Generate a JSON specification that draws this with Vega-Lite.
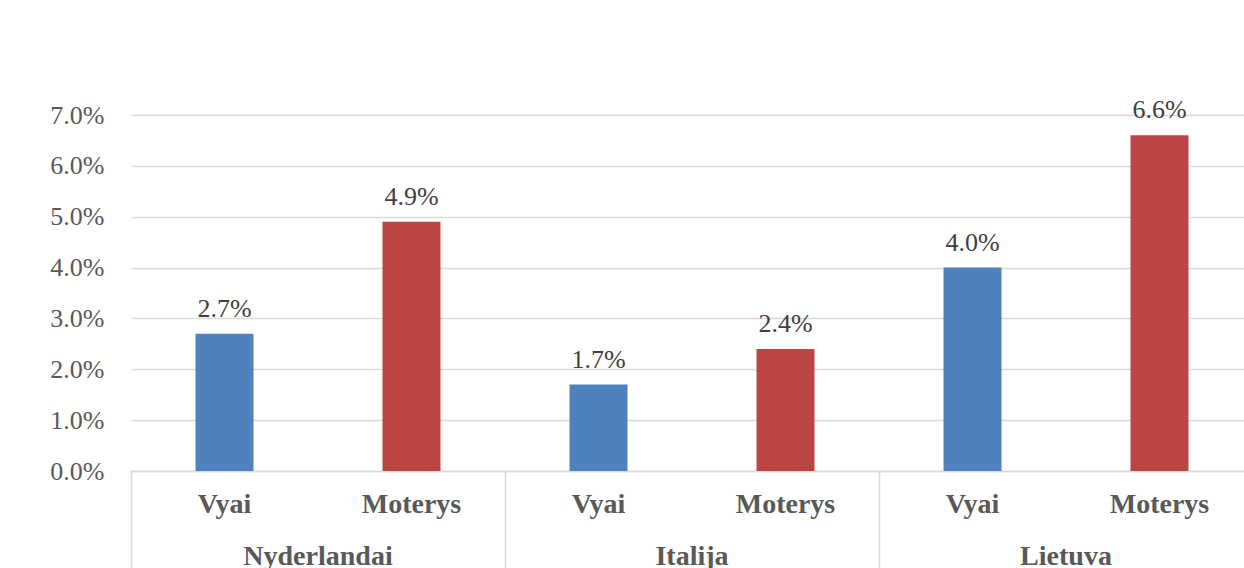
{
  "$schema": "https://vega.github.io/schema/vega-lite/v6.json",
  "width": 1113,
  "height": 356,
  "autosize": {"type": "none"},
  "padding": {"left": 131, "top": 115, "right": 0, "bottom": 97},
  "background": "white",
  "config": {"view": {"stroke": null}, "font": "Liberation Serif"},
  "data": {
    "values": [
      {"country": "Nyderlandai", "sex": "Vyai", "key": "Nyderlandai|Vyai", "value": 0.027},
      {"country": "Nyderlandai", "sex": "Moterys", "key": "Nyderlandai|Moterys", "value": 0.049},
      {"country": "Italija", "sex": "Vyai", "key": "Italija|Vyai", "value": 0.017},
      {"country": "Italija", "sex": "Moterys", "key": "Italija|Moterys", "value": 0.024},
      {"country": "Lietuva", "sex": "Vyai", "key": "Lietuva|Vyai", "value": 0.040},
      {"country": "Lietuva", "sex": "Moterys", "key": "Lietuva|Moterys", "value": 0.066}
    ]
  },
  "layer": [
    {
      "encoding": {
        "x": {
          "field": "key",
          "type": "nominal",
          "sort": null,
          "scale": {
            "domain": ["Nyderlandai|Vyai", "Nyderlandai|Moterys", "Italija|Vyai", "Italija|Moterys", "Lietuva|Vyai", "Lietuva|Moterys"],
            "range": [0, 1122],
            "paddingInner": 0.69,
            "paddingOuter": 0.345
          },
          "axis": {
            "orient": "bottom",
            "title": null,
            "labelExpr": "split(datum.label, '|')[1]",
            "ticks": false,
            "domainColor": "#d9d9d9",
            "domainWidth": 1.5,
            "labelAngle": 0,
            "labelFont": "Liberation Serif",
            "labelFontSize": 28,
            "labelFontWeight": "bold",
            "labelColor": "#595959",
            "labelPadding": 19
          }
        },
        "y": {
          "field": "value",
          "type": "quantitative",
          "scale": {"domain": [0, 0.07], "nice": false},
          "axis": {
            "title": null,
            "format": ".1%",
            "values": [0, 0.01, 0.02, 0.03, 0.04, 0.05, 0.06, 0.07],
            "ticks": false,
            "domain": false,
            "gridColor": "#d9d9d9",
            "gridWidth": 1.5,
            "labelFont": "Liberation Serif",
            "labelFontSize": 26,
            "labelColor": "#595959",
            "labelPadding": 27
          }
        }
      },
      "layer": [
        {
          "mark": {"type": "bar"},
          "encoding": {
            "color": {
              "field": "sex",
              "type": "nominal",
              "scale": {"domain": ["Vyai", "Moterys"], "range": ["#4f81bd", "#bb4542"]},
              "legend": null
            }
          }
        },
        {
          "mark": {"type": "text", "baseline": "alphabetic", "dy": -17, "fontSize": 26, "color": "#404040", "font": "Liberation Serif"},
          "encoding": {
            "text": {"field": "value", "type": "quantitative", "format": ".1%"}
          }
        }
      ]
    },
    {
      "mark": {"type": "bar", "opacity": 0},
      "encoding": {
        "x": {
          "field": "country",
          "type": "nominal",
          "sort": null,
          "scale": {
            "type": "band",
            "domain": ["Nyderlandai", "Italija", "Lietuva"],
            "range": [0, 1122],
            "paddingInner": 0,
            "paddingOuter": 0
          },
          "axis": {
            "orient": "bottom",
            "title": null,
            "domain": false,
            "ticks": true,
            "bandPosition": 0,
            "tickSize": 97,
            "tickColor": "#d9d9d9",
            "tickWidth": 1.5,
            "labelAngle": 0,
            "labelFont": "Liberation Serif",
            "labelFontSize": 28,
            "labelFontWeight": "bold",
            "labelColor": "#595959",
            "labelPadding": -26
          }
        },
        "y": {"field": "value", "type": "quantitative"}
      }
    }
  ],
  "resolve": {"scale": {"x": "independent"}, "axis": {"x": "independent"}}
}
